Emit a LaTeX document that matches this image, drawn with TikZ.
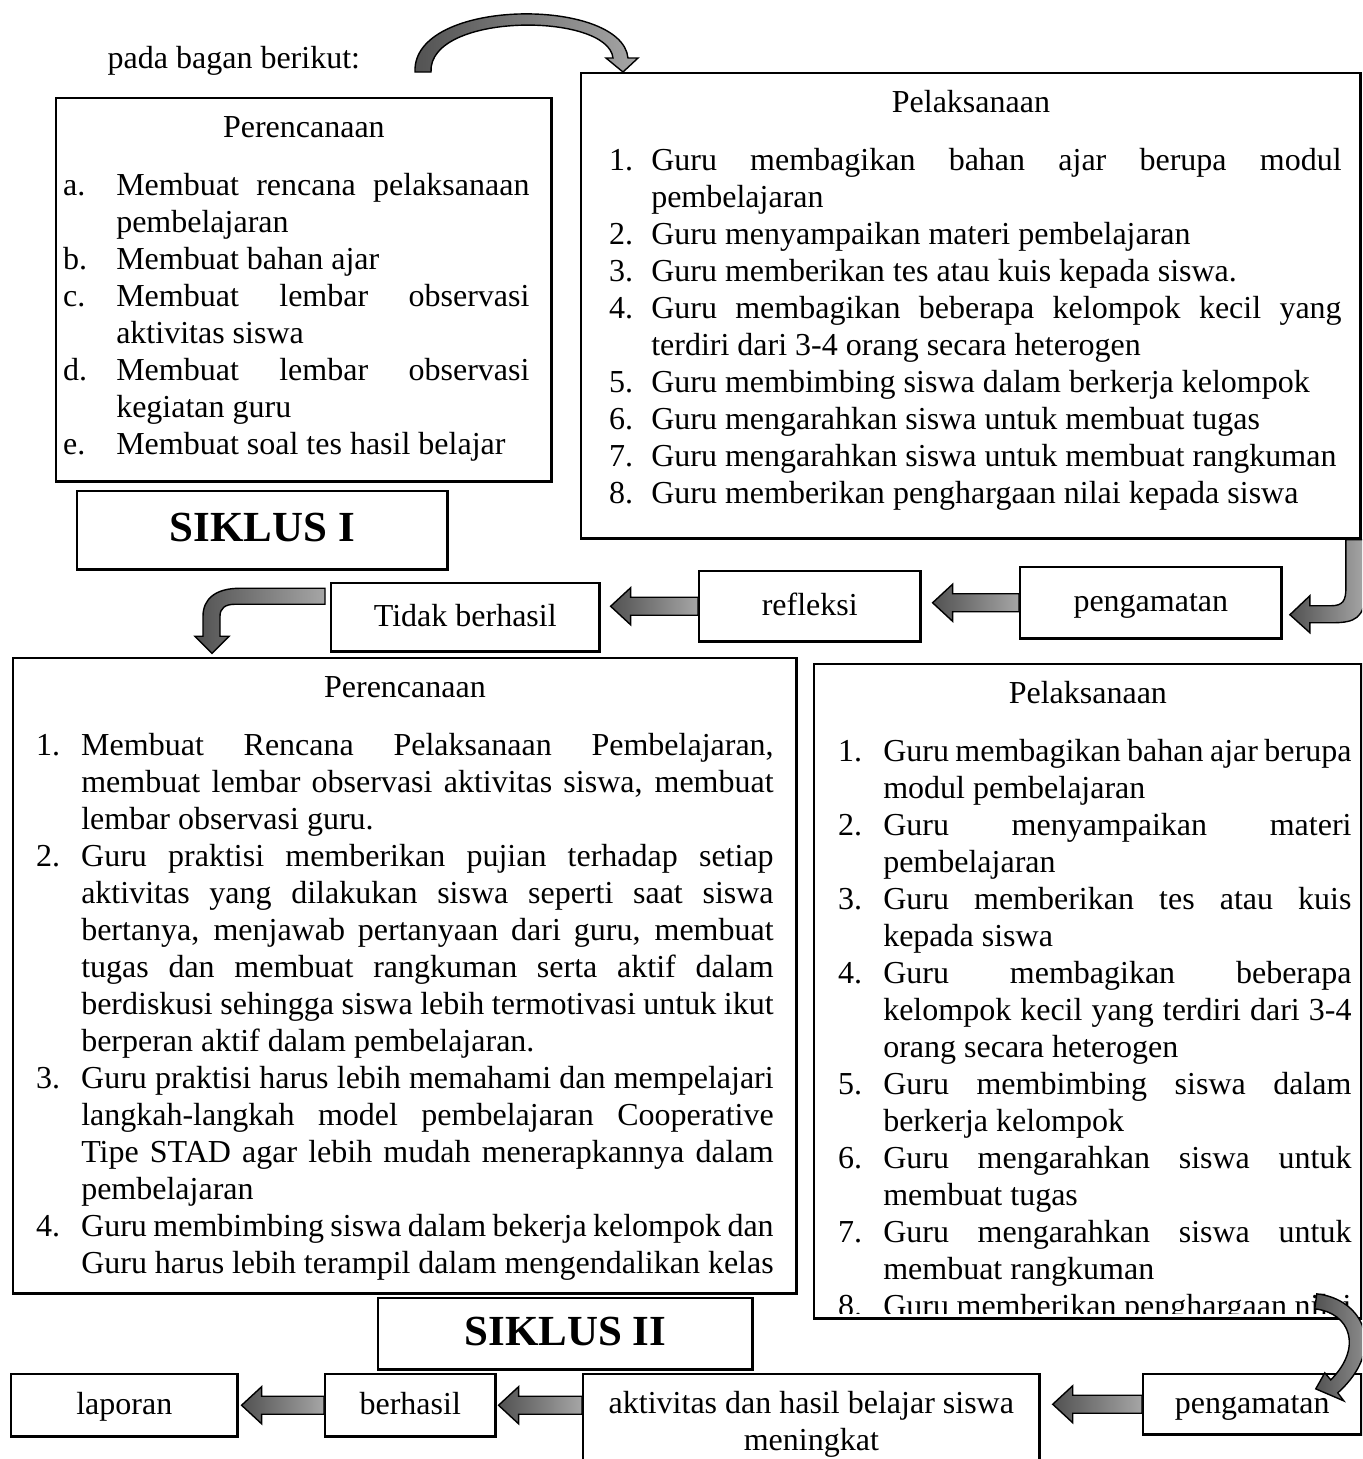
\documentclass[tikz,border=0pt]{standalone}
\usepackage{fontspec}
\setmainfont{Liberation Serif}
\usetikzlibrary{calc}
\pgfdeclarelayer{background}
\pgfsetlayers{background,main}

\newcommand\fs{\fontsize{9.1}{10.53}\selectfont}
\newlength\txtind
% one list entry: label, then hanging text
\newcommand\itm[1]{\par\noindent\hangindent=\txtind\hangafter=1\hbox to\txtind{#1\hfil}\ignorespaces}
% width, height, label indent, text indent, right margin, title, entries
\newcommand\listbox[7]{\parbox[c][#2][t]{#1}{\hyphenpenalty=10000\exhyphenpenalty=10000\tolerance=10000
  \vspace*{0.13cm}\centerline{\strut #6}\vspace{0.21cm}
  \leftskip=#3\rightskip=#5\txtind=#4 #7}}
% left block arrow from #1 to #2
\newcommand\larrow[2]{\path[blockarrow] let \p1=(#1), \p2=(#2) in
  (\x1,\y1+0.09cm) -- (\x2+0.2cm,\y1+0.09cm) -- (\x2+0.2cm,\y1+0.185cm) -- (\x2,\y1)
  -- (\x2+0.2cm,\y1-0.185cm) -- (\x2+0.2cm,\y1-0.09cm) -- (\x1,\y1-0.09cm) -- cycle;}

\tikzset{
  box/.style={draw, line width=0.7pt, anchor=north west, inner sep=0pt, font=\fs},
  cell/.style={box, text height=0.66em, text depth=0.14em},
  title/.style={box, font=\bfseries\fontsize{12.2}{14}\selectfont, text height=0.66em, text depth=0pt},
  blockarrow/.style={draw=black, line width=0.4pt, left color=black!68, right color=black!35}
}

\begin{document}
\begin{tikzpicture}[x=0.01cm, y=-0.01cm]
    \clip (0,0) rectangle (1362,1459);
    \fill[white] (0,0) rectangle (1362,1459);

    \node[font=\fs, anchor=base west, inner sep=0pt] (intro) at (107,68) {pada bagan berikut:};

    % siklus I
    \node[box] (plan1) at (55,97) {\listbox{4.95cm}{3.83cm}{0.07cm}{0.53cm}{0.22cm}{Perencanaan}{
        \itm{a.} Membuat rencana pelaksanaan\linebreak pembelajaran
        \itm{b.} Membuat bahan ajar
        \itm{c.} Membuat lembar observasi\linebreak aktivitas siswa
        \itm{d.} Membuat lembar observasi\linebreak kegiatan guru
        \itm{e.} Membuat soal tes hasil belajar}};
    \node[box] (exec1) at (580,72) {\listbox{7.79cm}{4.65cm}{0.28cm}{0.42cm}{0.19cm}{Pelaksanaan}{
        \itm{1.} Guru membagikan bahan ajar berupa modul\linebreak pembelajaran
        \itm{2.} Guru menyampaikan materi pembelajaran
        \itm{3.} Guru memberikan tes atau kuis kepada siswa.
        \itm{4.} Guru membagikan beberapa kelompok kecil yang\linebreak terdiri dari 3-4 orang secara heterogen
        \itm{5.} Guru membimbing siswa dalam berkerja kelompok
        \itm{6.} Guru mengarahkan siswa untuk membuat tugas
        \itm{7.} Guru mengarahkan siswa untuk membuat rangkuman
        \itm{8.} Guru memberikan penghargaan nilai kepada siswa}};
    \node[title, minimum width=3.70cm, minimum height=0.78cm] (cyc1) at (76,490) {SIKLUS I};
    \node[cell, minimum width=2.61cm, minimum height=0.71cm] (obs1) at (1019,566) {pengamatan};
    \node[cell, minimum width=2.21cm, minimum height=0.70cm] (refl) at (698,570) {refleksi};
    \node[cell, minimum width=2.68cm, minimum height=0.68cm] (fail) at (330,582) {Tidak berhasil};

    % siklus II
    \node[box] (plan2) at (12,657) {\listbox{7.83cm}{6.35cm}{0.23cm}{0.45cm}{0.23cm}{Perencanaan}{
        \itm{1.} Membuat Rencana Pelaksanaan Pembelajaran,\linebreak membuat lembar observasi aktivitas siswa, membuat\linebreak lembar observasi guru.
        \itm{2.} Guru praktisi memberikan pujian terhadap setiap\linebreak aktivitas yang dilakukan siswa seperti saat siswa\linebreak bertanya, menjawab pertanyaan dari guru, membuat\linebreak tugas dan membuat rangkuman serta aktif dalam\linebreak berdiskusi sehingga siswa lebih termotivasi untuk ikut\linebreak berperan aktif dalam pembelajaran.
        \itm{3.} Guru praktisi harus lebih memahami dan mempelajari\linebreak langkah-langkah model pembelajaran Cooperative\linebreak Tipe STAD agar lebih mudah menerapkannya dalam\linebreak pembelajaran
        \itm{4.} Guru membimbing siswa dalam bekerja kelompok dan\linebreak Guru harus lebih terampil dalam mengendalikan kelas}};
    \node[box, minimum width=5.47cm, minimum height=6.54cm] (exec2) at (813,663) {};
    \begin{scope}
        \clip (exec2.north west) rectangle ([yshift=0.06cm]exec2.south east);
        \node[box, draw=none] (exec2txt) at (exec2.north west) {\listbox{5.47cm}{6.54cm}{0.24cm}{0.45cm}{0.10cm}{Pelaksanaan}{
            \itm{1.} Guru membagikan bahan ajar berupa\linebreak modul pembelajaran
            \itm{2.} Guru menyampaikan materi\linebreak pembelajaran
            \itm{3.} Guru memberikan tes atau kuis\linebreak kepada siswa
            \itm{4.} Guru membagikan beberapa\linebreak kelompok kecil yang terdiri dari 3-4\linebreak orang secara heterogen
            \itm{5.} Guru membimbing siswa dalam\linebreak berkerja kelompok
            \itm{6.} Guru mengarahkan siswa untuk\linebreak membuat tugas
            \itm{7.} Guru mengarahkan siswa untuk\linebreak membuat rangkuman
            \itm{8.} Guru memberikan penghargaan nilai\linebreak kepada siswa}};
    \end{scope}
    \node[title, minimum width=3.74cm, minimum height=0.71cm] (cyc2) at (377,1297) {SIKLUS II};
    \node[cell, minimum width=2.26cm, minimum height=0.62cm] (rep) at (10,1373) {laporan};
    \node[cell, minimum width=1.70cm, minimum height=0.62cm] (succ) at (324,1373) {berhasil};
    \node[box] (res) at (582,1373) {\parbox[c][1.02cm][t]{4.56cm}{\vspace*{0.13cm}\centering\strut aktivitas dan hasil belajar siswa\\meningkat}};
    \node[cell, minimum width=2.18cm, minimum height=0.60cm] (obs2) at (1142,1373) {pengamatan};

    % straight arrows
    \larrow{obs1.west}{[xshift=0.11cm]refl.east}
    \larrow{refl.west}{[xshift=0.1cm]fail.east}
    \larrow{obs2.west}{[xshift=0.12cm]res.east}
    \larrow{res.west |- succ.east}{[xshift=0.02cm]succ.east}
    \larrow{succ.west}{[xshift=0.03cm]rep.east}

    % curved arrows
    \begin{scope}[shift={(exec1.north west)}]
        \path[blockarrow] (-165,0) .. controls (-168,-75) and (42,-75) .. (48,-14) -- (58,-14) -- (43,0)
            -- (26,-14) -- (33,-14) .. controls (28,-60) and (-152,-60) .. (-149,0) -- cycle;
    \end{scope}
    \begin{scope}[shift={(exec1.south east)}]
        \path[blockarrow] (3,0) -- (3,53) .. controls (3,78) and (-7,83) .. (-29,83) -- (-52,83) -- (-52,93)
            -- (-72,75) -- (-52,56) -- (-52,66) -- (-31,66) .. controls (-19,66) and (-16,61) .. (-16,48) -- (-16,0) -- cycle;
    \end{scope}
    \begin{scope}[shift={(fail.west)}]
        \path[blockarrow] (-5,-29) -- (-90,-29) .. controls (-115,-29) and (-127,-18) .. (-127,-1) -- (-127,19)
            -- (-135,19) -- (-118,36) -- (-101,19) -- (-110,19) -- (-110,-1)
            .. controls (-110,-9) and (-105,-13) .. (-95,-13) -- (-5,-13) -- cycle;
    \end{scope}
    \begin{pgfonlayer}{background}
        \begin{scope}[shift={(exec2.north west)}]
            \path[blockarrow] (-83,51) .. controls (-88,-28) and (92,-28) .. (97,37) -- (104,37) -- (90,51)
                -- (70,37) -- (79,37) .. controls (75,-11) and (-68,-11) .. (-66,51) -- cycle;
        \end{scope}
    \end{pgfonlayer}
    \begin{scope}[shift={(exec2.south east)}]
        \path[blockarrow] (-46,-26) .. controls (0,-21) and (25,28) .. (-25,73) -- (-19,81) -- (-47,69)
            -- (-38,53) -- (-32,60) .. controls (0,28) and (-12,-7) .. (-48,-11) -- cycle;
    \end{scope}
\end{tikzpicture}
\end{document}
